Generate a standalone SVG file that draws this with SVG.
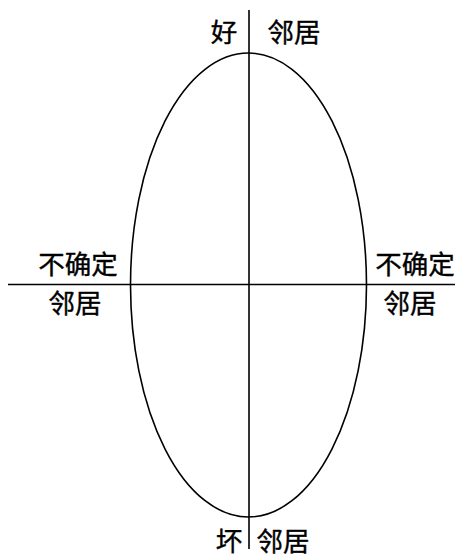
<svg xmlns="http://www.w3.org/2000/svg" width="463" height="559" viewBox="0 0 463 559">
<style>
.t{font-family:"Noto Sans CJK SC","Noto Sans",sans-serif;font-size:26.5px;fill:#000;stroke:#000;stroke-width:0.4}
.l{stroke:#000;stroke-width:1.6;fill:none}
</style>
<rect width="463" height="559" fill="#fff"/>
<g id="connectors">
<ellipse id="ellipse" class="l" cx="248.5" cy="285" rx="118" ry="232"/>
<line class="l" x1="249" y1="10" x2="249" y2="549"/>
<line class="l" x1="8" y1="284.5" x2="455" y2="284.5"/>
</g>
<g id="top-left"><text class="t" x="224" y="42" text-anchor="middle">好</text></g>
<g id="top-right"><text class="t" x="294" y="42" text-anchor="middle">邻居</text></g>
<g id="left-top"><text class="t" x="78" y="274" text-anchor="middle">不确定</text></g>
<g id="left-bottom"><text class="t" x="75" y="313" text-anchor="middle">邻居</text></g>
<g id="right-top"><text class="t" x="415" y="274" text-anchor="middle">不确定</text></g>
<g id="right-bottom"><text class="t" x="410" y="313" text-anchor="middle">邻居</text></g>
<g id="bottom-left"><text class="t" x="229" y="551" text-anchor="middle">坏</text></g>
<g id="bottom-right"><text class="t" x="283" y="551" text-anchor="middle">邻居</text></g>
</svg>
